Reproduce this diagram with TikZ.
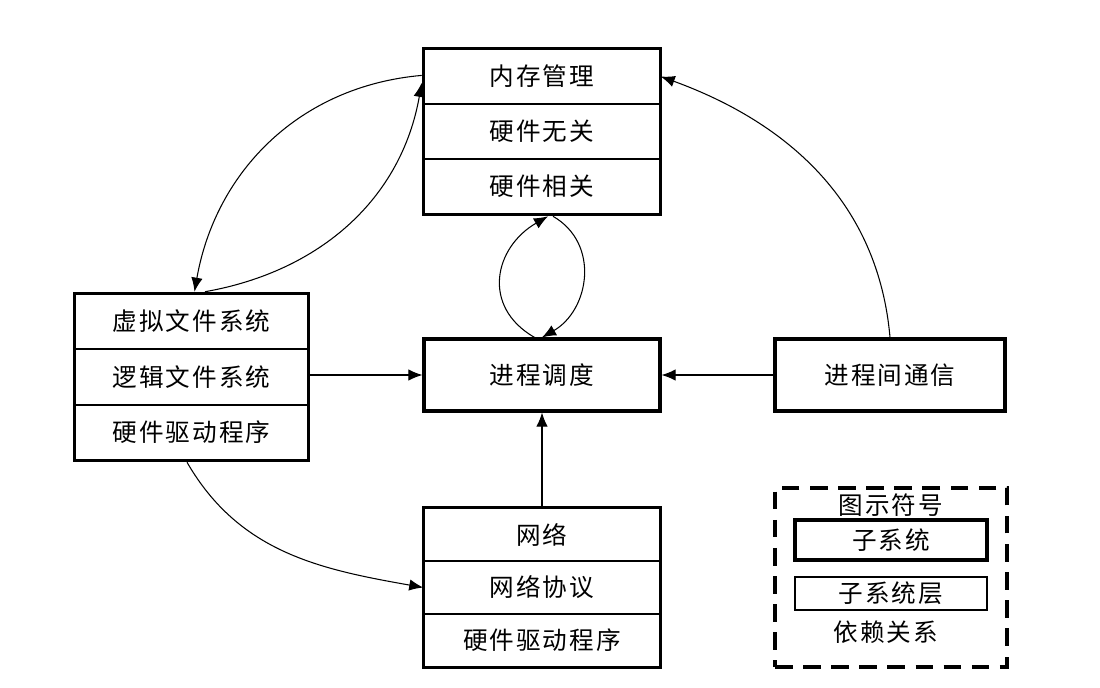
\documentclass[tikz,border=0pt]{standalone}
\usepackage{fontspec}
\newfontfamily\cjk[LetterSpace=8]{Noto Sans CJK SC}
\usetikzlibrary{arrows.meta,fit}

\begin{document}
\begin{tikzpicture}[auto,
    label text/.style ={font=\cjk\fontsize{14}{16}\selectfont},
    layer/.style ={draw, line width=0.8pt, minimum width=4.72cm, minimum height=1.1cm, inner sep=0pt, label text},
    subsystem/.style ={draw, line width=1.8pt, inner sep=0pt},
    depend/.style ={line width=0.6pt, -{Latex[length=8pt,width=6.5pt]}}]
   \useasboundingbox (0,0) rectangle (22,-13.74);
   % memory management
   \node[layer] (mem1) at (10.84,-1.53) {内存管理};
   \node[layer] (mem2) at (10.84,-2.63) {硬件无关};
   \node[layer] (mem3) at (10.84,-3.73) {硬件相关};
   \node[subsystem, fit=(mem1) (mem2) (mem3)] (mem) {};
   % virtual file system
   \node[layer, minimum width=4.66cm] (vfs1) at (3.83,-6.43) {虚拟文件系统};
   \node[layer, minimum width=4.66cm] (vfs2) at (3.83,-7.54) {逻辑文件系统};
   \node[layer, minimum width=4.66cm] (vfs3) at (3.83,-8.65) {硬件驱动程序};
   \node[subsystem, fit=(vfs1) (vfs2) (vfs3)] (vfs) {};
   % network
   \node[layer, minimum height=1.06cm] (net1) at (10.84,-10.69) {网络};
   \node[layer, minimum height=1.06cm] (net2) at (10.84,-11.75) {网络协议};
   \node[layer, minimum height=1.06cm] (net3) at (10.84,-12.81) {硬件驱动程序};
   \node[subsystem, fit=(net1) (net2) (net3)] (net) {};
   % single subsystems
   \node[subsystem, label text, minimum width=4.72cm, minimum height=1.44cm] (sched) at (10.84,-7.5) {进程调度};
   \node[subsystem, label text, minimum width=4.6cm, minimum height=1.44cm] (ipc) at (17.8,-7.5) {进程间通信};
   % legend
   \node[draw, line width=2.2pt, dash pattern=on 10pt off 6pt, minimum width=4.64cm, minimum height=3.58cm] (legend) at (17.82,-11.55) {};
   \node[label text] (legendtitle) at (17.82,-10.1) {图示符号};
   \node[subsystem, line width=2.3pt, label text, minimum width=3.84cm, minimum height=0.8cm] (legendsub) at (17.82,-10.8) {子系统};
   \node[layer, minimum width=3.84cm, minimum height=0.66cm] (legendlayer) at (17.82,-11.87) {子系统层};
   \node[label text] (legenddep) at (17.72,-12.64) {依赖关系};
   % dependencies
   \draw[depend] (vfs.east |- sched.west) to (sched.west);
   \draw[depend] (ipc.west) to (sched.east);
   \draw[depend] (net.north) to (sched.south);
   \draw[depend] (ipc.north) to[out=95, in=-20] (mem1.east);
   \draw[depend] (vfs.-93) to[out=-60, in=170] (net2.west);
   \draw[depend] (mem.155) to[out=185, in=80] (vfs.88);
   \draw[depend] (vfs.81) to[out=10, in=-100] (mem.158);
   \draw[depend] ([xshift=-0.15cm]sched.north) to[out=150, in=-150, looseness=1.3] ([xshift=0.12cm]mem.south);
   \draw[depend] ([xshift=0.22cm]mem.south) to[out=-30, in=30, looseness=1.15] (sched.north);
\end{tikzpicture}
\end{document}
